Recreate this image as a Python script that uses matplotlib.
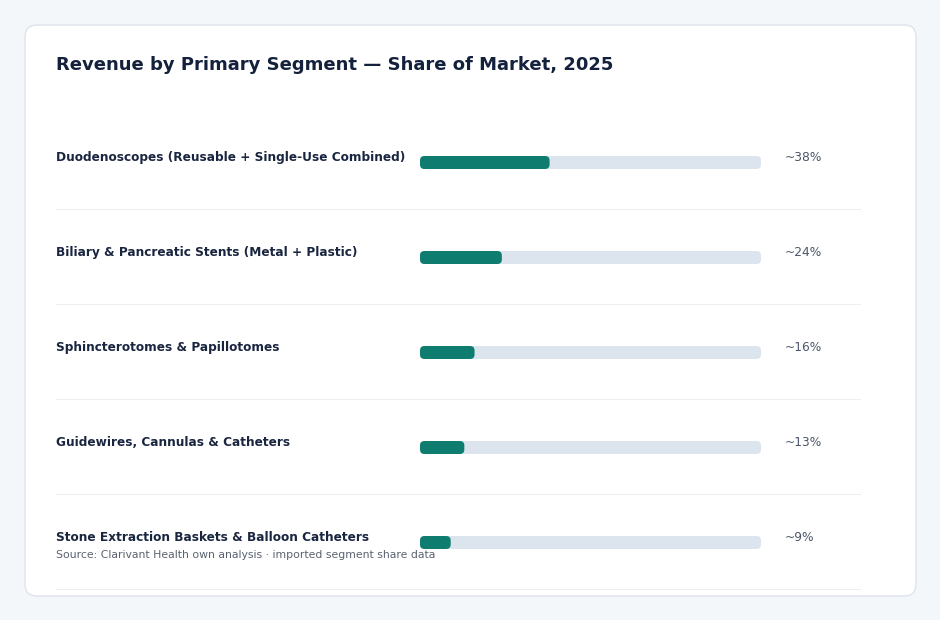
import matplotlib
matplotlib.use("Agg")
import matplotlib.pyplot as plt
from matplotlib.patches import FancyBboxPatch

W, H = 940, 620

segments = [
    "Duodenoscopes (Reusable + Single-Use Combined)",
    "Biliary & Pancreatic Stents (Metal + Plastic)",
    "Sphincterotomes & Papillotomes",
    "Guidewires, Cannulas & Catheters",
    "Stone Extraction Baskets & Balloon Catheters",
]
shares = [38, 24, 16, 13, 9]
share_labels = ["~38%", "~24%", "~16%", "~13%", "~9%"]

INK = "#14213d"; LABEL = "#1a2540"; SOFT = "#4a5568"; SRC = "#5a6270"
BAR = "#0e7c6f"; TRACK = "#dce5ee"; BG = "#f4f7fa"; CARD_EC = "#dde3ea"; SEP = "#edf0f3"

fig = plt.figure(figsize=(W / 100, H / 100), dpi=100)
fig.patch.set_facecolor(BG)

# background / card axes in pixel coords
bg = fig.add_axes([0, 0, 1, 1])
bg.set_xlim(0, W); bg.set_ylim(H, 0); bg.axis("off")
bg.add_patch(FancyBboxPatch((25, 25), 891, 571, boxstyle="round,pad=0,rounding_size=12",
                            fc="white", ec=CARD_EC, lw=1.0))
bg.text(56, 65, "Revenue by Primary Segment — Share of Market, 2025", fontsize=13,
        weight="bold", color=INK, ha="left", va="center")

top, row_h = 115, 95
for i, (name, lab) in enumerate(zip(segments, share_labels)):
    yc = top + row_h * (i + 0.5)
    bg.text(56, yc - 5, name, fontsize=8.7, weight="bold", color=LABEL, ha="left", va="center")
    bg.text(785, yc - 5, lab, fontsize=8.8, color=SOFT, ha="left", va="center")
    bg.plot([56, 860], [yc + 46, yc + 46], color=SEP, lw=0.8)

bg.text(56, 555, "Source: Clarivant Health own analysis · imported segment share data",
        fontsize=7.8, color=SRC, ha="left", va="center")

# bars axes: x 0-100 %, one row per segment
x0, x1 = 420, 761
ax = fig.add_axes([x0 / W, 1 - (top + row_h * len(segments)) / H,
                   (x1 - x0) / W, row_h * len(segments) / H])
ax.set_xlim(0, 100); ax.set_ylim(len(segments) - 0.5, -0.5)
ax.axis("off"); ax.patch.set_alpha(0)
ypos = list(range(len(segments)))
hgt = 13 / row_h
tracks = ax.barh(ypos, [100] * len(segments), height=hgt, color=TRACK)
fills = ax.barh(ypos, shares, height=hgt, color=BAR)

# swap the square bars for rounded ones of the same geometry
px_x = 100 / (x1 - x0)          # data units per pixel, x
px_y = 1 / row_h                # data units per pixel, y
rad = 4.5 * px_x
for cont in (tracks, fills):
    for r in cont:
        r.set_visible(False)
        ax.add_patch(FancyBboxPatch((r.get_x(), r.get_y()), r.get_width(), r.get_height(),
                                    boxstyle=f"round,pad=0,rounding_size={rad}",
                                    mutation_aspect=px_y / px_x,
                                    fc=r.get_facecolor(), ec="none", zorder=r.get_zorder()))

fig.savefig("out.png", dpi=100, facecolor=BG)
